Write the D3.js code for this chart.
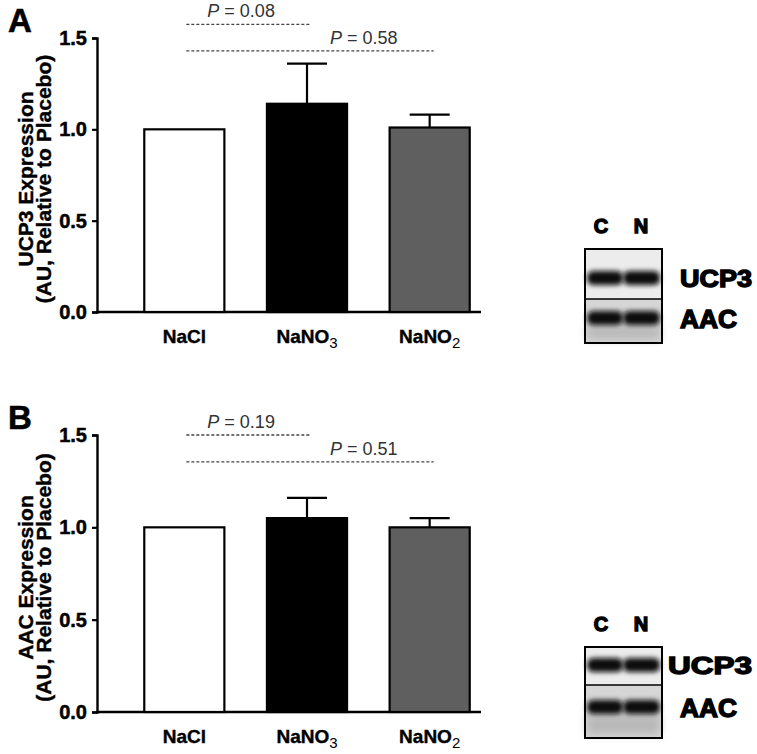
<!DOCTYPE html>
<html>
<head>
<meta charset="utf-8">
<script src="https://cdn.jsdelivr.net/npm/d3@7"></script>
<style>
  body { margin: 0; background: #fff; }
  svg { display: block; font-family: "Liberation Sans", Arial, sans-serif; }
</style>
</head>
<body>
<div id="chart"></div>
<script>
"use strict";

// data
var categories = ["NaCl", "NaNO3", "NaNO2"];
var subscripts = ["", "3", "2"];
var barFills = ["#ffffff", "#000000", "#5f5f5f"];
var yTicks = [0, 0.5, 1.0, 1.5];

var ucp3Means = [1.00, 1.14, 1.01];
var ucp3Sem = [0, 0.22, 0.07];
var ucp3PLabels = ["0.08", "0.58"];
var ucp3PLevels = [1.575, 1.43];

var aacMeans = [1.00, 1.05, 1.00];
var aacSem = [0, 0.11, 0.05];
var aacPLabels = ["0.19", "0.51"];
var aacPLevels = [1.50, 1.355];

// each p value compares NaCl with one of the other groups
var comparisons = [[0, 1], [0, 2]];

var width = 757, height = 754;

var svg = d3.select("#chart")
    .append("svg")
    .attr("width", width)
    .attr("height", height);

var defs = svg.append("defs");
defs.append("filter").attr("id", "blur")
    .attr("x", "-30%").attr("y", "-60%").attr("width", "160%").attr("height", "220%")
    .append("feGaussianBlur").attr("stdDeviation", 2.4);
defs.append("filter").attr("id", "blurWide")
    .attr("x", "-30%").attr("y", "-60%").attr("width", "160%").attr("height", "220%")
    .append("feGaussianBlur").attr("stdDeviation", 4);

var x = d3.scaleBand()
    .domain(categories)
    .range([123, 491])
    .paddingInner(0.347)
    .paddingOuter(0.1735);

var narrow = "Liberation Sans Narrow, Arial Narrow, sans-serif";

function drawPanel(opts) {
  var y = d3.scaleLinear().domain([0, 1.5]).range([opts.y0, opts.y1]);
  var g = svg.append("g");

  // panel letter
  g.append("text")
    .attr("x", 8).attr("y", opts.y1 - 6)
    .attr("font-size", 33).attr("font-weight", "bold")
    .attr("stroke", "#000").attr("stroke-width", 0.6)
    .text(opts.letter);

  // y axis
  var yAxis = d3.axisLeft(y).tickValues(yTicks).tickFormat(d3.format(".1f"))
      .tickSizeOuter(0).tickSize(5).tickPadding(5);
  var ya = g.append("g").attr("transform", "translate(97,0)").call(yAxis);
  ya.select(".domain").attr("stroke-width", 2.4);
  ya.selectAll(".tick line").attr("stroke-width", 2.2);
  ya.selectAll(".tick text")
    .attr("font-size", 20).attr("font-weight", "bold")
    .attr("font-family", "Liberation Sans, Arial, sans-serif").attr("fill", "#000")
    .attr("stroke", "#000").attr("stroke-width", 0.5);

  // x axis baseline
  g.append("line")
    .attr("x1", 96).attr("x2", 481)
    .attr("y1", y(0)).attr("y2", y(0))
    .attr("stroke", "#000").attr("stroke-width", 2.4);

  // y title
  var yc = (y(0) + y(1.5)) / 2 + 4;
  var title = g.append("text")
    .attr("transform", "translate(0," + yc + ") rotate(-90)")
    .attr("text-anchor", "middle")
    .attr("font-size", 21).attr("font-weight", "bold")
    .attr("stroke", "#000").attr("stroke-width", 0.4);
  title.append("tspan").attr("x", 0).attr("y", 33).text(opts.title);
  title.append("tspan").attr("x", 0).attr("y", 51).text("(AU, Relative to Placebo)");

  // error bars (upward only)
  var capW = x.bandwidth() / 2;
  var err = g.selectAll(".err")
    .data(opts.means.map(function(m, i) { return {c: categories[i], m: m, s: opts.sem[i]}; })
      .filter(function(d) { return d.s > 0; }))
    .enter().append("g").attr("class", "err");
  err.append("line")
    .attr("x1", function(d) { return x(d.c) + x.bandwidth() / 2; })
    .attr("x2", function(d) { return x(d.c) + x.bandwidth() / 2; })
    .attr("y1", function(d) { return y(d.m); })
    .attr("y2", function(d) { return y(d.m + d.s); })
    .attr("stroke", "#000").attr("stroke-width", 2.2);
  err.append("line")
    .attr("x1", function(d) { return x(d.c) + x.bandwidth() / 2 - capW / 2; })
    .attr("x2", function(d) { return x(d.c) + x.bandwidth() / 2 + capW / 2; })
    .attr("y1", function(d) { return y(d.m + d.s); })
    .attr("y2", function(d) { return y(d.m + d.s); })
    .attr("stroke", "#000").attr("stroke-width", 2.2);

  // bars
  g.selectAll(".bar")
    .data(opts.means)
    .enter().append("rect")
    .attr("class", "bar")
    .attr("x", function(d, i) { return x(categories[i]); })
    .attr("width", x.bandwidth())
    .attr("y", function(d) { return y(d); })
    .attr("height", function(d) { return y(0) - y(d); })
    .attr("fill", function(d, i) { return barFills[i]; })
    .attr("stroke", "#000").attr("stroke-width", 2.2);

  // x labels with subscripts
  var xl = g.selectAll(".xlab")
    .data(categories)
    .enter().append("text")
    .attr("class", "xlab")
    .attr("x", function(d) { return x(d) + x.bandwidth() / 2; })
    .attr("y", y(0) + 31)
    .attr("text-anchor", "middle")
    .attr("font-size", 19).attr("font-weight", "bold");
  xl.append("tspan").attr("stroke", "#000").attr("stroke-width", 0.4)
    .text(function(d, i) { return subscripts[i] ? d.slice(0, -1) : d; });
  xl.append("tspan")
    .attr("font-weight", "normal").attr("font-size", 15).attr("dy", 5)
    .text(function(d, i) { return subscripts[i]; });

  // p value brackets
  var centre = function(i) { return x(categories[i]) + x.bandwidth() / 2; };
  comparisons.forEach(function(pair, k) {
    var ly = y(opts.pLevels[k]);
    g.append("line")
      .attr("x1", centre(pair[0]) + 2).attr("x2", centre(pair[1]) + 4)
      .attr("y1", ly).attr("y2", ly)
      .attr("stroke", "#444").attr("stroke-width", 1.3)
      .attr("stroke-dasharray", "3,2");
    var t = g.append("text")
      .attr("x", centre(pair[1] - 1) + 23)
      .attr("y", ly - 7)
      .attr("font-size", 18).attr("fill", "#333");
    t.append("tspan").attr("font-style", "italic").text("P");
    t.append("tspan").text(" = " + opts.pLabels[k]);
  });

  // western blot inset
  var b = svg.append("g").attr("transform", "translate(585," + opts.blotTop + ")");
  var bw = 77, bh = opts.blotH, mid = opts.blotMid;
  [["C", 16], ["N", 56]].forEach(function(l) {
    b.append("text").attr("x", l[1]).attr("y", -16)
      .attr("text-anchor", "middle").attr("font-size", 20).attr("font-weight", "bold")
      .attr("font-family", narrow)
      .attr("stroke", "#000").attr("stroke-width", 1.4).text(l[0]);
  });
  b.append("rect").attr("width", bw).attr("height", mid).attr("fill", "#ececec");
  b.append("rect").attr("y", mid).attr("width", bw).attr("height", bh - mid).attr("fill", "#d6d6d6");
  b.append("rect").attr("x", 2).attr("y", opts.band2 + 8).attr("width", bw - 4).attr("height", bh - opts.band2 - 12)
    .attr("fill", "#b8b8b8").attr("filter", "url(#blurWide)");
  [[2, 36], [38, 37]].forEach(function(l) {
    b.append("rect").attr("x", l[0]).attr("y", opts.band1 - 7).attr("width", l[1]).attr("height", 14)
      .attr("rx", 6).attr("fill", "#0a0a0a").attr("filter", "url(#blur)");
    b.append("rect").attr("x", l[0]).attr("y", opts.band2 - 7).attr("width", l[1]).attr("height", 14)
      .attr("rx", 6).attr("fill", "#0a0a0a").attr("filter", "url(#blur)");
  });
  b.append("rect").attr("width", bw).attr("height", bh)
    .attr("fill", "none").attr("stroke", "#000").attr("stroke-width", 2);
  b.append("line").attr("x1", 0).attr("x2", bw).attr("y1", mid).attr("y2", mid)
    .attr("stroke", "#000").attr("stroke-width", 1.5);
  b.append("text").attr("x", opts.ucpX).attr("y", opts.band1 + 9)
    .attr("font-size", 24).attr("font-weight", "bold")
    .attr("font-family", narrow)
    .attr("stroke", "#000").attr("stroke-width", 1.4)
    .attr("textLength", 72 - (opts.ucpX - 95)).attr("lengthAdjust", "spacingAndGlyphs")
    .text("UCP3");
  b.append("text").attr("x", 95).attr("y", opts.band2 + 10)
    .attr("font-size", 25).attr("font-weight", "bold")
    .attr("font-family", narrow)
    .attr("stroke", "#000").attr("stroke-width", 1.4)
    .attr("textLength", 57).attr("lengthAdjust", "spacingAndGlyphs")
    .text("AAC");
}

drawPanel({
  letter: "A", y0: 312, y1: 38,
  title: "UCP3 Expression",
  means: ucp3Means, sem: ucp3Sem,
  pLabels: ucp3PLabels, pLevels: ucp3PLevels,
  blotTop: 249, blotH: 94, blotMid: 50, band1: 29, band2: 69, ucpX: 95
});

drawPanel({
  letter: "B", y0: 712, y1: 435,
  title: "AAC Expression",
  means: aacMeans, sem: aacSem,
  pLabels: aacPLabels, pLevels: aacPLevels,
  blotTop: 647, blotH: 91, blotMid: 38, band1: 18, band2: 60, ucpX: 83
});
</script>
</body>
</html>
